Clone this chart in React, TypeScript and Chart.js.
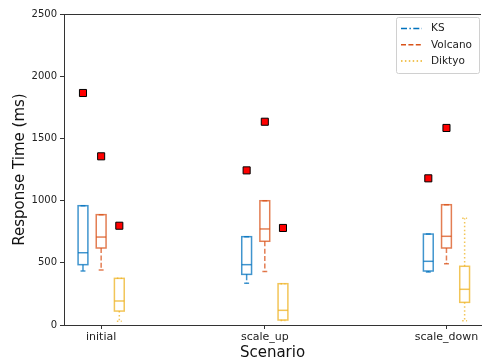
import React, { useEffect, useRef } from 'react';
import { Chart, registerables } from 'chart.js';

Chart.register(...registerables);

const scenarios = ['initial', 'scale_up', 'scale_down'];
const scenarioPositions = [0, 1, 2.11];
const seriesNames = ['KS', 'Volcano', 'Diktyo'];

const ksQ1 = [485, 407, 434];
const ksMedian = [581, 485, 512];
const ksQ3 = [959, 710, 731];
const ksLow = [434, 335, 426];
const ksHigh = [959, 710, 731];
const ksOutliers = [1865, 1243, 1179];

const volcanoQ1 = [619, 673, 619];
const volcanoMedian = [707, 772, 713];
const volcanoQ3 = [887, 999, 967];
const volcanoLow = [442, 431, 493];
const volcanoHigh = [887, 999, 967];
const volcanoOutliers = [1356, 1634, 1584];

const diktyoQ1 = [112, 40, 182];
const diktyoMedian = [193, 118, 287];
const diktyoQ3 = [375, 332, 472];
const diktyoLow = [30, 36, 35];
const diktyoHigh = [375, 332, 858];
const diktyoOutliers: (number | null)[] = [798, 780, null];

const yTicks = [0, 500, 1000, 1500, 2000, 2500];

const series = [
  { name: seriesNames[0], q1: ksQ1, med: ksMedian, q3: ksQ3, low: ksLow, high: ksHigh, out: ksOutliers },
  { name: seriesNames[1], q1: volcanoQ1, med: volcanoMedian, q3: volcanoQ3, low: volcanoLow, high: volcanoHigh, out: volcanoOutliers },
  { name: seriesNames[2], q1: diktyoQ1, med: diktyoMedian, q3: diktyoQ3, low: diktyoLow, high: diktyoHigh, out: diktyoOutliers },
];

const COLORS = ['#0072BD', '#D95319', '#EDB120'];
const BOX_COLORS = ['rgba(0,114,189,0.75)', 'rgba(217,83,25,0.75)', 'rgba(237,177,32,0.75)'];
const DASHES = [[6, 2.4, 1.5, 2.4], [5, 2.4], [1.5, 2.4]];
const OFFSETS = [-0.111, 0, 0.111];
const BOX_W = 0.06;
const FONT = 'DejaVu Sans';

const boxPlugin = {
  id: 'boxes',
  beforeDatasetsDraw(chart: any) {
    const { ctx, scales } = chart;
    const x = scales.x;
    const y = scales.y;
    ctx.save();
    ctx.beginPath();
    ctx.rect(chart.chartArea.left, chart.chartArea.top, chart.chartArea.right - chart.chartArea.left, chart.chartArea.bottom - chart.chartArea.top);
    ctx.clip();
    series.forEach((s, si) => {
      scenarioPositions.forEach((pos, gi) => {
        const xc = x.getPixelForValue(pos + OFFSETS[si]);
        const half = x.getPixelForValue(pos + OFFSETS[si] + BOX_W / 2) - xc;
        const capHalf = half / 2;
        const yq1 = y.getPixelForValue(s.q1[gi]);
        const yq3 = y.getPixelForValue(s.q3[gi]);
        const ymed = y.getPixelForValue(s.med[gi]);
        const ylo = y.getPixelForValue(s.low[gi]);
        const yhi = y.getPixelForValue(s.high[gi]);
        ctx.strokeStyle = BOX_COLORS[si];
        ctx.lineWidth = 1.5;
        ctx.setLineDash(DASHES[si]);
        ctx.beginPath();
        ctx.moveTo(xc, yq1);
        ctx.lineTo(xc, ylo);
        ctx.moveTo(xc, yq3);
        ctx.lineTo(xc, yhi);
        ctx.stroke();
        ctx.beginPath();
        ctx.moveTo(xc - capHalf, ylo);
        ctx.lineTo(xc + capHalf, ylo);
        ctx.moveTo(xc - capHalf, yhi);
        ctx.lineTo(xc + capHalf, yhi);
        ctx.stroke();
        ctx.setLineDash([]);
        ctx.strokeRect(xc - half, yq3, 2 * half, yq1 - yq3);
        ctx.beginPath();
        ctx.moveTo(xc - half, ymed);
        ctx.lineTo(xc + half, ymed);
        ctx.stroke();
      });
    });
    ctx.restore();
  },
};

const framePlugin = {
  id: 'frame',
  afterDraw(chart: any) {
    const { ctx, chartArea } = chart;
    ctx.save();
    ctx.strokeStyle = '#333333';
    ctx.lineWidth = 1;
    ctx.beginPath();
    ctx.moveTo(chartArea.left, chartArea.top + 0.5);
    ctx.lineTo(chartArea.right, chartArea.top + 0.5);
    ctx.stroke();
    ctx.restore();
  },
};

const legendPlugin = {
  id: 'customLegend',
  afterDraw(chart: any) {
    const { ctx, chartArea } = chart;
    const w = 83;
    const h = 56;
    const left = chartArea.right - 2 - w;
    const top = chartArea.top + 3;
    ctx.save();
    ctx.fillStyle = 'rgba(255,255,255,0.8)';
    ctx.strokeStyle = '#d0d0d0';
    ctx.lineWidth = 1;
    ctx.beginPath();
    (ctx as any).roundRect(left + 0.5, top + 0.5, w, h, 2);
    ctx.fill();
    ctx.stroke();
    ctx.font = `10.5px "${FONT}"`;
    ctx.textBaseline = 'middle';
    ctx.textAlign = 'left';
    series.forEach((s, i) => {
      const yy = top + 11.5 + i * 16.3;
      ctx.strokeStyle = COLORS[i];
      ctx.lineWidth = 1.5;
      ctx.setLineDash(DASHES[i]);
      ctx.beginPath();
      ctx.moveTo(left + 5, yy);
      ctx.lineTo(left + 26, yy);
      ctx.stroke();
      ctx.setLineDash([]);
      ctx.fillStyle = '#222222';
      ctx.fillText(s.name, left + 35, yy);
    });
    ctx.restore();
  },
};

export default function App() {
  const ref = useRef<HTMLCanvasElement | null>(null);
  useEffect(() => {
    if (!ref.current) return;
    const outlierData: { x: number; y: number }[] = [];
    series.forEach((s, si) => {
      s.out.forEach((v, gi) => {
        if (v !== null && v !== undefined) outlierData.push({ x: scenarioPositions[gi] + OFFSETS[si], y: v });
      });
    });
    const chart = new Chart(ref.current, {
      type: 'scatter',
      data: {
        datasets: [
          {
            label: 'outliers',
            data: outlierData,
            pointStyle: 'rect',
            pointRadius: 5,
            pointBackgroundColor: '#ff0000',
            pointBorderColor: '#000000',
            pointBorderWidth: 1,
          },
        ],
      },
      plugins: [boxPlugin, framePlugin, legendPlugin],
      options: {
        animation: false,
        responsive: false,
        maintainAspectRatio: false,
        layout: { padding: { top: 14, right: 0, left: 0, bottom: 0 } },
        plugins: { legend: { display: false }, tooltip: { enabled: false } },
        scales: {
          x: {
            type: 'linear',
            min: -0.227,
            max: 2.321,
            afterFit: (scale: any) => { scale.height = 37; },
            afterBuildTicks: (scale: any) => { scale.ticks = scenarioPositions.map((v) => ({ value: v })); },
            ticks: {
              autoSkip: false,
              maxRotation: 0,
              padding: 2,
              color: '#222222',
              font: { family: FONT, size: 11 },
              callback: (v: any) => {
                const idx = scenarioPositions.indexOf(Number(v));
                return idx >= 0 ? scenarios[idx] : '';
              },
            },
            grid: { drawOnChartArea: false, drawTicks: true, tickLength: 4, color: '#333333' },
            border: { display: true, color: '#333333', width: 1 },
            title: { display: true, text: 'Scenario', color: '#111111', font: { family: FONT, size: 15 }, padding: { top: 0, bottom: 0 } },
          },
          y: {
            type: 'linear',
            min: 0,
            max: 2500,
            afterFit: (scale: any) => { scale.width = 64; },
            afterBuildTicks: (scale: any) => { scale.ticks = yTicks.map((v) => ({ value: v })); },
            ticks: { color: '#222222', padding: 3, font: { family: FONT, size: 10 }, callback: (v: any) => String(v) },
            grid: { drawOnChartArea: false, drawTicks: true, tickLength: 4, color: '#333333' },
            border: { display: true, color: '#333333', width: 1 },
            title: { display: true, text: 'Response Time (ms)', color: '#111111', font: { family: FONT, size: 15 }, padding: { top: 11, bottom: 0 } },
          },
        },
      },
    });
    return () => chart.destroy();
  }, []);
  return (
    <div style={{ position: 'fixed', left: 0, top: 0, width: 487, height: 362, background: '#ffffff' }}>
      <canvas ref={ref} width={487} height={362} style={{ width: 487, height: 362, display: 'block' }} />
    </div>
  );
}
